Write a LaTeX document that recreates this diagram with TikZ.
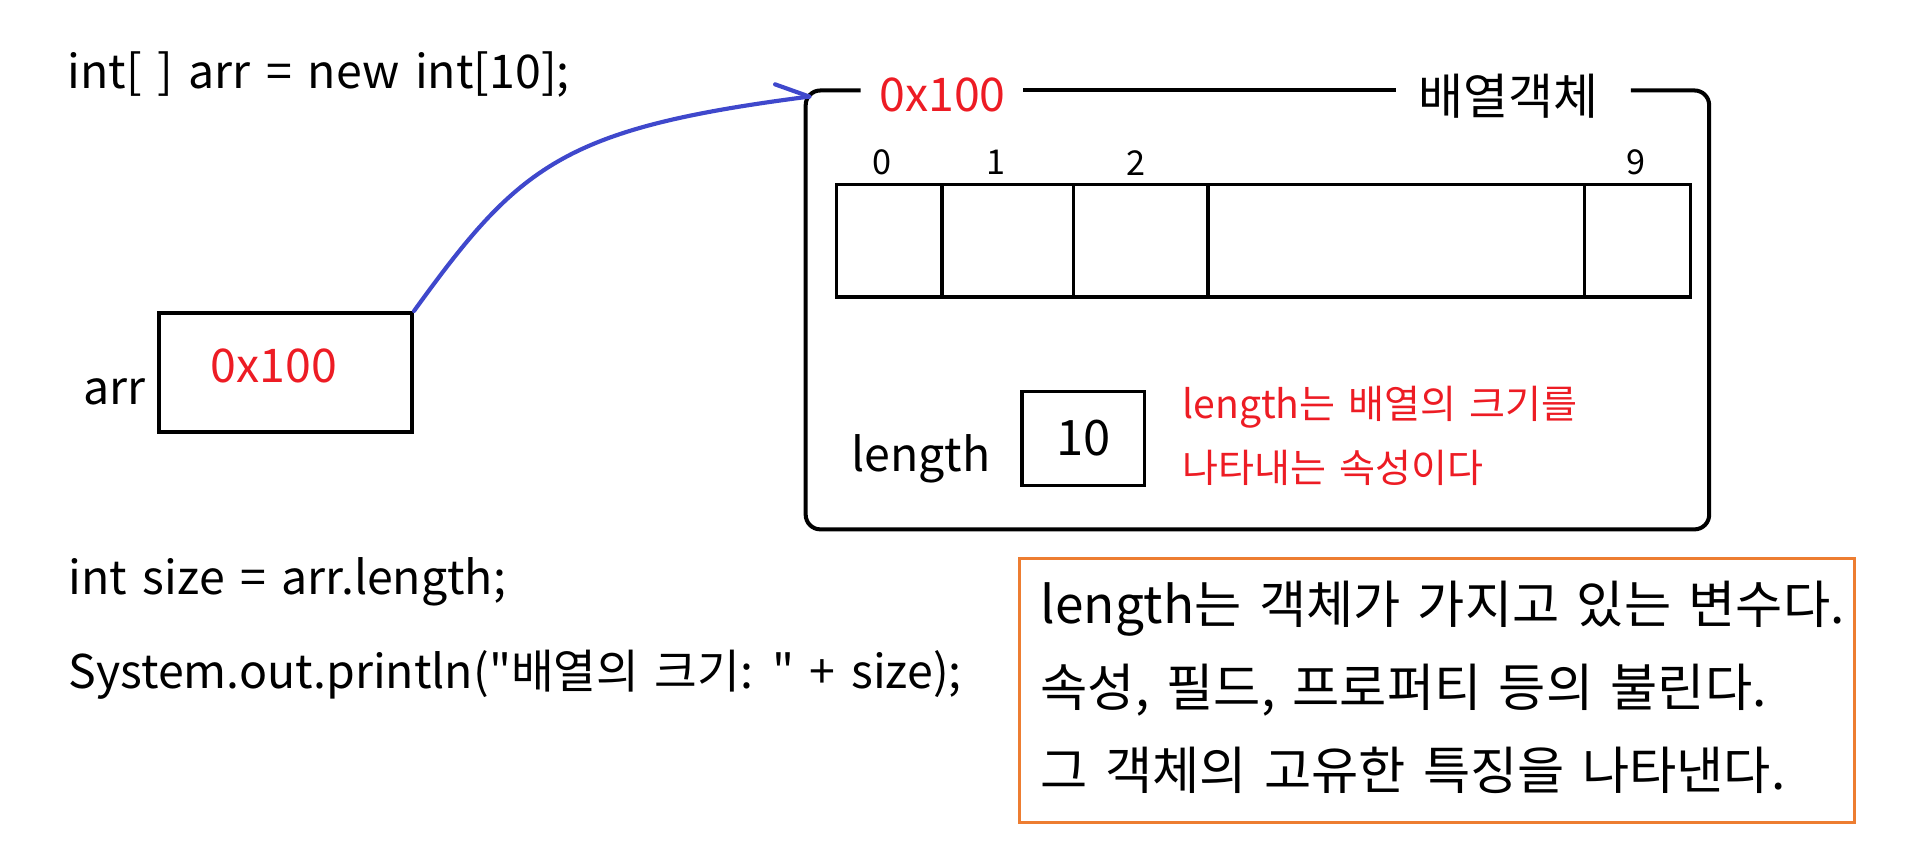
\documentclass[tikz,border=0pt]{standalone}
\usepackage{fontspec}
\setmainfont{Noto Sans CJK KR}
\newfontfamily\codefont[Ligatures=TeXOff,WordSpace=1.5]{Noto Sans CJK KR}
\newfontfamily\notefont[WordSpace=1.5]{Noto Sans CJK KR}
\definecolor{pred}{HTML}{ED1C24}
\definecolor{pblue}{HTML}{3F48CC}
\definecolor{porange}{HTML}{ED7D31}
\begin{document}
\begin{tikzpicture}[x=1pt,y=-1pt,
  codetxt/.style={anchor=base west,inner sep=0pt,font=\codefont\fontsize{38}{42}\selectfont},
  redtxt/.style={text=pred},
  thickbox/.style={draw,line width=3.3pt},
  thinbox/.style={draw,line width=2.6pt},
  idx/.style={inner sep=0pt,font=\fontsize{28}{32}\selectfont},
  notetxt/.style={anchor=base west,inner sep=0pt,text=pred,font=\notefont\fontsize{32}{36}\selectfont},
  boxtxt/.style={anchor=base west,inner sep=0pt,font=\notefont\fontsize{42}{46}\selectfont}]
\useasboundingbox (0,0) rectangle (1568,701);

% code lines
\node[codetxt] (c1) at (55,72) {int[ ] arr = new int[10];};
\node[codetxt] (c2) at (56,486) {int size = arr.length;};
\node[codetxt] (c3) at (56,563) {System.out.println("배열의 크기: " + size);};

% arr variable
\node[thickbox,minimum width=207pt,minimum height=97pt,inner sep=0pt] (arr) at (233.5,304.5) {};
\node[codetxt] (arrlbl) at (68,331) {arr};
\node[codetxt,redtxt] (arrval) at (172,313) {0x100};

% array object box
\coordinate (tl) at (662,79);
\draw[line width=3.3pt,rounded corners=12pt] (704,74) -- (659,74) -- (659,433) -- (1398,433) -- (1398,74) -- (1334,74);
\draw[line width=3.3pt] (837,74) -- (1142,74);
\node[anchor=base,inner sep=0pt,text=pred,font=\fontsize{38}{42}\selectfont] (addr) at (771,91.5) {0x100};
\node[inner sep=0pt,font=\fontsize{40}{44}\selectfont] (title) at (1234,79) {배열객체};

% cells
\node[thinbox,minimum width=86.5pt,minimum height=92pt,inner sep=0pt] (e0) at (727.25,197) {};
\node[thinbox,minimum width=107.5pt,minimum height=92pt,inner sep=0pt] (e1) at (824.25,197) {};
\node[thinbox,minimum width=110pt,minimum height=92pt,inner sep=0pt] (e2) at (933,197) {};
\node[thinbox,minimum width=308pt,minimum height=92pt,inner sep=0pt] (e3) at (1142,197) {};
\node[thinbox,minimum width=87pt,minimum height=92pt,inner sep=0pt] (e9) at (1339.5,197) {};
\node[idx] (i0) at (721.6,133) {0};
\node[idx] (i1) at (815,133) {1};
\node[idx] (i2) at (929,133) {2};
\node[idx] (i9) at (1338,133) {9};

% length
\node[anchor=base west,inner sep=0pt,font=\fontsize{38}{42}\selectfont] (lenlbl) at (696,386) {length};
\node[thinbox,minimum width=100pt,minimum height=77pt,inner sep=0pt,font=\fontsize{40}{44}\selectfont] (lenval) at (886,358.5) {10};
\node[notetxt] (n1) at (967,342) {length는 배열의 크기를};
\node[notetxt] (n2) at (967,395) {나타내는 속성이다};

% pointer
\draw[pblue,line width=3.4pt,line cap=round] (arr.north east) .. controls (425,135) and (460,105) .. (tl);
\draw[pblue,line width=3.4pt,line cap=round] (tl) -- (634,69);

% explanation box
\node[draw=porange,line width=2.4pt,minimum width=683pt,minimum height=216pt,inner sep=0pt] (expl) at (1175.5,565) {};
\node[boxtxt] (b1) at (851,510) {length는 객체가 가지고 있는 변수다.};
\node[boxtxt] (b2) at (851,578) {속성, 필드, 프로퍼티 등의 불린다.};
\node[boxtxt] (b3) at (851,646) {그 객체의 고유한 특징을 나타낸다.};
\end{tikzpicture}
\end{document}
